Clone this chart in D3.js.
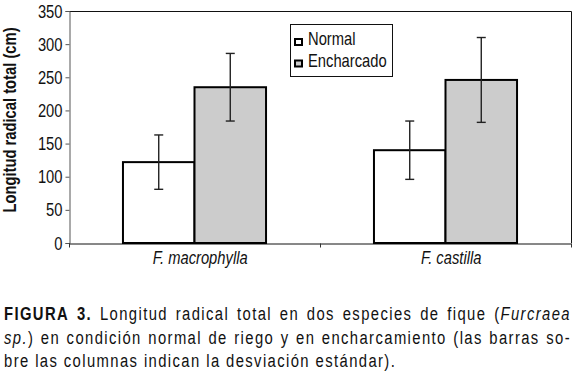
<!DOCTYPE html>
<html>
<head>
<meta charset="utf-8">
<script src="https://cdn.jsdelivr.net/npm/d3@7"></script>
<style>
  body { margin: 0; background: #fff; }
  text { font-family: "Liberation Sans", Arial, sans-serif; fill: #111; }
</style>
</head>
<body>
<svg id="chart" width="575" height="374"></svg>
<script>
// data
var species = ["F. macrophylla", "F. castilla"];
var series = ["Normal", "Encharcado"];
var normalMeans = [122, 140];
var encharcadoMeans = [235, 246];
var normalSD = [41, 44];
var encharcadoSD = [51, 64];
var yTicks = [0, 50, 100, 150, 200, 250, 300, 350];
var yTitle = "Longitud radical total (cm)";

// caption, one entry per printed line; each word is a list of [text, style]
var captionLines = [
  [[["FIGURA", "b"]], [["3.", "b"]], [["Longitud", ""]], [["radical", ""]], [["total", ""]], [["en", ""]],
   [["dos", ""]], [["especies", ""]], [["de", ""]], [["fique", ""]], [["(", ""], ["Furcraea", "i"]]],
  [[["sp.", "i"], [")", ""]], [["en", ""]], [["condición", ""]], [["normal", ""]], [["de", ""]], [["riego", ""]],
   [["y", ""]], [["en", ""]], [["encharcamiento", ""]], [["(las", ""]], [["barras", ""]], [["so-", ""]]],
  [[["bre", ""]], [["las", ""]], [["columnas", ""]], [["indican", ""]], [["la", ""]], [["desviación", ""]],
   [["estándar).", ""]]]
];
var captionJustify = [true, true, false];

var fills = { "Normal": "#ffffff", "Encharcado": "#cccccc" };

// no narrow font installed: squeeze Liberation Sans horizontally
var squeeze = 0.82;
function narrowText(sel, k) {
  k = k || squeeze;
  sel.each(function() {
    var t = d3.select(this);
    var tx = +t.attr("x") || 0, ty = +t.attr("y") || 0;
    var pre = t.attr("data-pre") || "";
    t.attr("x", 0).attr("y", 0)
      .attr("transform", "translate(" + tx + "," + ty + ")" + pre + " scale(" + k + ",1)");
  });
}

var rows = species.map(function(s, i) {
  return {
    species: s,
    values: [
      { key: "Normal", mean: normalMeans[i], sd: normalSD[i] },
      { key: "Encharcado", mean: encharcadoMeans[i], sd: encharcadoSD[i] }
    ]
  };
});

var svg = d3.select("#chart");
var plotLeft = 69, plotRight = 571, plotTop = 11, plotBottom = 243;

var x0 = d3.scaleBand().domain(species).range([plotLeft, plotRight]);
var groupW = x0.bandwidth() * 0.57;
var x1 = d3.scaleBand().domain(series).range([0, groupW]);
var y = d3.scaleLinear().domain([0, 350]).range([plotBottom, plotTop]);

// frame: top and right edges
svg.append("path")
  .attr("d", "M" + plotLeft + "," + (plotTop + 0.5) + "H" + (plotRight + 0.5) + "V" + plotBottom)
  .attr("fill", "none")
  .attr("stroke", "#111")
  .attr("stroke-width", 1);

// y axis
var yAxis = svg.append("g")
  .attr("transform", "translate(" + (plotLeft + 0.5) + ",0)")
  .call(d3.axisLeft(y).tickValues(yTicks).tickSize(4).tickPadding(3));
yAxis.attr("font-family", null);
yAxis.select(".domain").attr("stroke", "#555");
yAxis.selectAll(".tick line").attr("stroke", "#555");
yAxis.selectAll(".tick text")
  .style("font-size", "18px")
  .attr("fill", "#111")
  .attr("dy", "0.34em")
  .call(narrowText);

// x axis
var xAxis = svg.append("g")
  .attr("transform", "translate(0," + (plotBottom + 0.5) + ")")
  .call(d3.axisBottom(x0).tickSize(0).tickPadding(0));
xAxis.attr("font-family", null);
xAxis.select(".domain").attr("stroke", "#111");
xAxis.selectAll(".tick text")
  .style("font-size", "18px")
  .style("font-style", "italic")
  .attr("fill", "#111")
  .attr("y", 0)
  .attr("dy", 21)
  .attr("dx", 7)
  .call(narrowText);
// boundary ticks between categories
xAxis.selectAll(".bnd")
  .data(species.concat(["end"]))
  .enter().append("line")
  .attr("x1", function(d, i) { return Math.round(plotLeft + x0.step() * i) + 0.5; })
  .attr("x2", function(d, i) { return Math.round(plotLeft + x0.step() * i) + 0.5; })
  .attr("y1", 0)
  .attr("y2", 4)
  .attr("stroke", "#333");

// y title
svg.append("text")
  .attr("x", 15.5)
  .attr("y", (plotTop + plotBottom) / 2 - 7)
  .attr("data-pre", " rotate(-90)")
  .attr("text-anchor", "middle")
  .style("font-size", "18px")
  .style("font-weight", "bold")
  .text(yTitle)
  .call(narrowText);

// bars
var groups = svg.selectAll(".grp")
  .data(rows)
  .enter().append("g")
  .attr("class", "grp")
  .attr("transform", function(d) {
    return "translate(" + (x0(d.species) + (x0.bandwidth() - groupW) / 2) + ",0)";
  });

groups.selectAll("rect")
  .data(function(d) { return d.values; })
  .enter().append("rect")
  .attr("x", function(d) { return x1(d.key); })
  .attr("y", function(d) { return y(d.mean); })
  .attr("width", x1.bandwidth())
  .attr("height", function(d) { return plotBottom - y(d.mean); })
  .attr("fill", function(d) { return fills[d.key]; })
  .attr("stroke", "#000")
  .attr("stroke-width", 2);

// error bars
var err = groups.selectAll(".err")
  .data(function(d) { return d.values; })
  .enter().append("g")
  .attr("class", "err")
  .attr("stroke", "#222")
  .attr("stroke-width", 1.4);
err.append("line")
  .attr("x1", function(d) { return x1(d.key) + x1.bandwidth() / 2; })
  .attr("x2", function(d) { return x1(d.key) + x1.bandwidth() / 2; })
  .attr("y1", function(d) { return y(d.mean + d.sd); })
  .attr("y2", function(d) { return y(d.mean - d.sd); });
err.selectAll(".cap")
  .data(function(d) { return [d.mean + d.sd, d.mean - d.sd].map(function(v) { return { key: d.key, v: v }; }); })
  .enter().append("line")
  .attr("x1", function(d) { return x1(d.key) + x1.bandwidth() / 2 - 4.5; })
  .attr("x2", function(d) { return x1(d.key) + x1.bandwidth() / 2 + 4.5; })
  .attr("y1", function(d) { return y(d.v); })
  .attr("y2", function(d) { return y(d.v); });

// legend
var legend = svg.append("g").attr("transform", "translate(290,24)");
legend.append("rect")
  .attr("x", 0.5).attr("y", 0.5)
  .attr("width", 102).attr("height", 52)
  .attr("fill", "#fff")
  .attr("stroke", "#111");
var li = legend.selectAll(".li")
  .data(series)
  .enter().append("g")
  .attr("transform", function(d, i) { return "translate(0," + (i * 21.5) + ")"; });
li.append("rect")
  .attr("x", 5).attr("y", 15)
  .attr("width", 7).attr("height", 6)
  .attr("fill", function(d) { return fills[d]; })
  .attr("stroke", "#000")
  .attr("stroke-width", 2);
li.append("text")
  .attr("x", 18).attr("y", 21)
  .style("font-size", "18px")
  .text(function(d) { return d; })
  .call(narrowText);

// caption, justified word by word
var capLeft = 4, capRight = 571, capSqueeze = 0.78;
var cap = svg.append("g").style("font-size", "19px").style("letter-spacing", (1.4 / capSqueeze) + "px");
captionLines.forEach(function(words, li) {
  var baseY = 320 + li * 23.5;
  var nodes = words.map(function(w) {
    var t = cap.append("text");
    w.forEach(function(seg) {
      t.append("tspan")
        .style("font-weight", seg[1] == "b" ? "bold" : null)
        .style("font-style", seg[1] == "i" ? "italic" : null)
        .text(seg[0]);
    });
    return t;
  });
  var widths = nodes.map(function(t) { return t.node().getComputedTextLength() * capSqueeze; });
  var total = d3.sum(widths);
  var gap = captionJustify[li] ? (capRight - capLeft - total) / (nodes.length - 1) : 5.5;
  var xPos = capLeft;
  nodes.forEach(function(t, i) {
    t.attr("x", xPos).attr("y", baseY).call(narrowText, capSqueeze);
    xPos += widths[i] + gap;
  });
});
</script>
</body>
</html>
